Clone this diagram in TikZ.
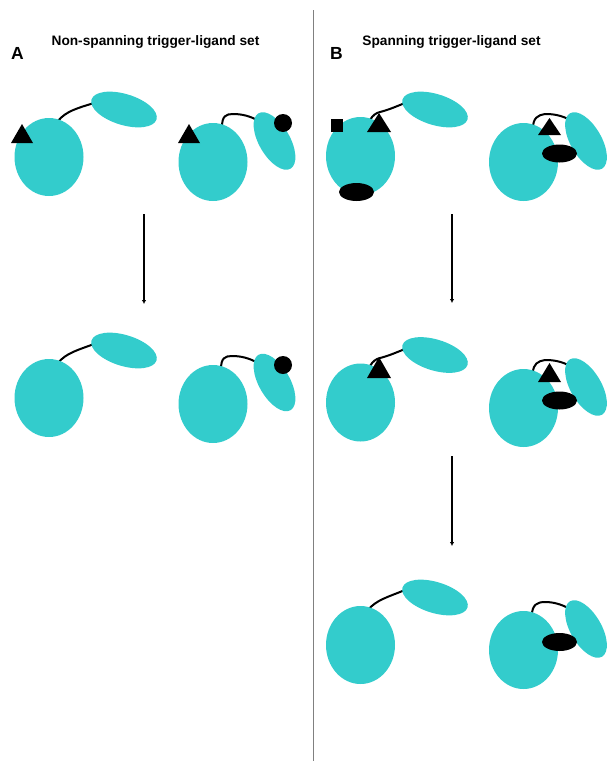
\documentclass[tikz,border=0pt]{standalone}
\usepackage{fontspec}
\setmainfont{Liberation Sans}
\usetikzlibrary{shapes.geometric,arrows.meta}
\definecolor{prot}{RGB}{51,204,204}
\begin{document}
\begin{tikzpicture}[x=1pt,y=-1pt,
  big/.style={ellipse, fill=prot, inner sep=0pt, minimum width=69pt, minimum height=78pt},
  smallh/.style={ellipse, fill=prot, inner sep=0pt, minimum width=68pt, minimum height=31pt, rotate=-17},
  smallv/.style={ellipse, fill=prot, inner sep=0pt, minimum width=64pt, minimum height=31pt, rotate=-60},
  lig/.style={ellipse, fill=black, inner sep=0pt, minimum width=35pt, minimum height=18pt},
  dot/.style={circle, fill=black, inner sep=0pt, minimum size=18pt},
  sq/.style={rectangle, fill=black, inner sep=0pt, minimum size=12.5pt},
  linker/.style={draw=black, line width=2pt},
  flow/.style={draw=black, line width=1.5pt, -{Latex[length=4pt,width=4.5pt]}},
  title/.style={font=\bfseries\fontsize{13.7}{16}\selectfont, anchor=base},
  letter/.style={font=\bfseries\fontsize{17.5}{20}\selectfont, anchor=base west, inner sep=0pt}
]
\useasboundingbox (0,0) rectangle (608,761);

% divider
\coordinate (divT) at (313,10);
\coordinate (divB) at (313,761);
\draw[gray, line width=1pt] (divT) -- (divB);

% titles
\node[title] (tA) at (155.5,45) {Non-spanning trigger-ligand set};
\node[title] (tB) at (451.5,45) {Spanning trigger-ligand set};
\node[letter] (lA) at (11,59) {A};
\node[letter] (lB) at (330,59) {B};

% ---------- Panel A ----------
% A1
\draw[linker] (58,121) .. controls (66,111) and (78,108) .. (94,103);
\node[big] (A1big) at (49,157) {};
\node[smallh] (A1small) at (124,109.5) {};
\fill (22,124) -- (33,143) -- (11,143) -- cycle;
% A2
\draw[linker] (222,127) .. controls (222,116) and (226,114) .. (233,114) .. controls (242,114) and (250,116) .. (259,121);
\node[big] (A2big) at (213,162) {};
\node[smallv] (A2small) at (274.5,141) {};
\node[dot] (A2dot) at (283,123) {};
\fill (189,124) -- (200,143) -- (178,143) -- cycle;
% A3
\draw[linker] (58,363) .. controls (66,353) and (78,350) .. (94,344);
\node[big] (A3big) at (49,398) {};
\node[smallh] (A3small) at (124,350.5) {};
% A4
\draw[linker] (221,369) .. controls (221,358) and (225,356) .. (232,356) .. controls (241,356) and (249,358) .. (258,363);
\node[big] (A4big) at (213,404) {};
\node[smallv] (A4small) at (274.5,382.5) {};
\node[dot] (A4dot) at (283,365) {};

% ---------- Panel B ----------
% B1
\draw[linker] (370,120) .. controls (373,115) and (376,113) .. (380,112) .. controls (388,110) and (395,107) .. (405,103);
\node[big] (B1big) at (360.5,156) {};
\node[smallh] (B1small) at (435,109.5) {};
\node[sq] (B1sq) at (337,125.5) {};
\fill (379,113) -- (391,132) -- (367,132) -- cycle;
\node[lig] (B1lig) at (356.5,192) {};
% B2
\draw[linker] (533,128) .. controls (533,118) and (538,115) .. (545,114) .. controls (553,114) and (561,115) .. (570,120);
\node[big] (B2big) at (523.5,162) {};
\node[smallv] (B2small) at (586,141) {};
\fill (549.5,118) -- (561,135) -- (538,135) -- cycle;
\node[lig] (B2lig) at (559.5,153.5) {};
% B3
\draw[linker] (370,366) .. controls (373,361) and (376,359) .. (380,358) .. controls (388,356) and (395,353) .. (405,349);
\node[big] (B3big) at (360.5,402.5) {};
\node[smallh] (B3small) at (435,355) {};
\fill (379,357) -- (391,378) -- (367,378) -- cycle;
% B4
\draw[linker] (533,373) .. controls (533,364) and (538,361) .. (545,360) .. controls (553,360) and (561,361) .. (570,366);
\node[big] (B4big) at (523.5,408) {};
\node[smallv] (B4small) at (586,387) {};
\fill (549.5,363) -- (561,382) -- (538,382) -- cycle;
\node[lig] (B4lig) at (559.5,400.5) {};
% B5
\draw[linker] (368,610) .. controls (376,600) and (388,597) .. (405,590);
\node[big] (B5big) at (360.5,645) {};
\node[smallh] (B5small) at (435,597.5) {};
% B6
\draw[linker] (532,615) .. controls (532,605) and (537,602) .. (545,602) .. controls (553,602) and (561,604) .. (570,609);
\node[big] (B6big) at (523.5,650) {};
\node[smallv] (B6small) at (586,629) {};
\node[lig] (B6lig) at (559.5,642) {};

% arrows
\coordinate (aA1) at (144,214); \coordinate (aA2) at (144,304);
\coordinate (aB1) at (452,214); \coordinate (aB2) at (452,303);
\coordinate (aB3) at (452,456); \coordinate (aB4) at (452,546);
\draw[flow] (aA1) -- (aA2);
\draw[flow] (aB1) -- (aB2);
\draw[flow] (aB3) -- (aB4);
\end{tikzpicture}
\end{document}
